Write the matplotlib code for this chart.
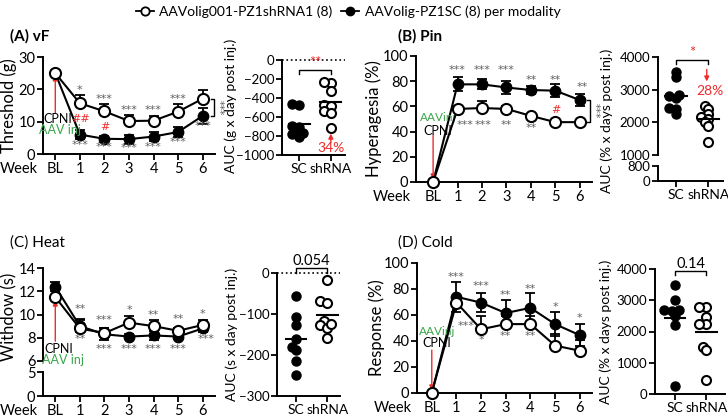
import matplotlib
matplotlib.use('Agg')
from matplotlib import pyplot as plt
from matplotlib.lines import Line2D
import numpy as np

plt.rcParams['font.family'] = ['Lato', 'DejaVu Sans']
plt.rcParams['font.size'] = 10

weeks = ['BL', '1', '2', '3', '4', '5', '6']
groups = ['SC', 'shRNA']

# (A) vF  threshold (g)
vf_sh = [25, 15.7, 13.2, 10.2, 10.3, 13.1, 17.1]
vf_sh_err = [0, 2.5, 2.3, 2.0, 1.6, 2.4, 2.8]
vf_sc = [25, 6.0, 4.7, 4.6, 5.4, 6.8, 11.8]
vf_sc_err = [0, 1.4, 0.9, 1.4, 1.5, 1.6, 2.4]
vf_auc_sc = [-470, -465, -690, -700, -740, -770, -780, -810]
vf_auc_sh = [-240, -232, -325, -475, -485, -533, -555, -715]

# (B) Pin  hyperalgesia (%)
pin_sh = [0, 58, 58.7, 58, 52.5, 47.5, 47.5]
pin_sh_err = [0, 2.5, 5.5, 2, 1.5, 1, 1]
pin_sc = [0, 77.5, 77.5, 75, 73, 72.5, 65]
pin_sc_err = [0, 5.5, 4, 5, 3, 5, 4.5]
pin_auc_sc = [3400, 3550, 2800, 2850, 2750, 2450, 2400, 2250]
pin_auc_sh = [2500, 2400, 2250, 2150, 2100, 2000, 1900, 1400]

# (C) Heat  withdraw (s)
heat_sh = [11.5, 8.8, 8.4, 9.3, 9.0, 8.6, 9.1]
heat_sh_err = [0, 0.8, 0.4, 0.6, 0.5, 0.2, 0.4]
heat_sc = [12.4, 9.0, 8.3, 8.1, 8.2, 8.1, 8.8]
heat_sc_err = [0.4, 0.5, 0.5, 0.2, 0.4, 0.2, 0.3]
heat_auc_sc = [-57, -107, -127, -160, -188, -180, -215, -248]
heat_auc_sh = [-16, -69, -74, -118, -126, -133, -125, -159]

# (D) Cold  response (%)
cold_sh = [0, 69.5, 49, 53, 53, 36.5, 32.5]
cold_sh_err = [0, 0, 10, 6, 6, 9, 8]
cold_sc = [0, 74, 69.5, 61.5, 65.5, 53, 44.5]
cold_sc_err = [0, 11.5, 7.5, 10, 11.5, 9, 8.5]
cold_auc_sc = [3500, 3000, 2700, 2700, 2650, 2500, 2200, 250]
cold_auc_sh = [2800, 2800, 2460, 2240, 2240, 1520, 1410, 450]

RED = '#ee2b2b'
GREEN = '#3aa64a'
GRAY = '#606060'

W, H = 728, 418
fig = plt.figure(figsize=(W / 100, H / 100), dpi=100, facecolor='white')


def box(x0, x1, ytop, ybot):
    a = fig.add_axes([x0 / W, 1 - ybot / H, (x1 - x0) / W, (ybot - ytop) / H])
    a.px = (x0, x1)
    return a


def label_at(ax, xpx, yfrac=0.5):
    x0, x1 = ax.px
    ax.yaxis.set_label_coords((xpx - x0) / (x1 - x0), yfrac)


def style(ax, bottom=True):
    for s in ['top', 'right']:
        ax.spines[s].set_visible(False)
    ax.spines['left'].set_linewidth(1.4)
    ax.spines['bottom'].set_linewidth(1.4)
    if not bottom:
        ax.spines['bottom'].set_visible(False)
        ax.set_xticks([])
    ax.tick_params(direction='out', length=4, width=1.3, labelsize=10.5, pad=1.5)
    ax.patch.set_alpha(0)


def week_axis(ax):
    ax.set_xticks(range(len(weeks)))
    ax.set_xticklabels(weeks)
    ax.annotate('Week', xy=(0, 0), xycoords='axes fraction', xytext=(-4, -5.5),
                textcoords='offset points', ha='right', va='top', fontsize=10.5)


def lines(ax, sh, sh_err, sc, sc_err):
    x = np.arange(len(weeks))
    sc_err = np.array(sc_err)
    sh_err = np.array(sh_err)
    m = sc_err > 0
    ax.errorbar(x[m], np.array(sc)[m], yerr=sc_err[m], fmt='none', ecolor='k',
                elinewidth=1.3, capsize=3.5, capthick=1.3, zorder=2)
    m = sh_err > 0
    ax.errorbar(x[m], np.array(sh)[m], yerr=[np.zeros(m.sum()), sh_err[m]], fmt='none',
                ecolor='k', elinewidth=1.3, capsize=3.5, capthick=1.3, zorder=2)
    ax.plot(x, sc, '-o', color='k', ms=7.5, lw=1.5, zorder=3, clip_on=False)
    ax.plot(x, sh, '-o', color='k', mfc='white', mec='k', mew=1.5, ms=8, lw=1.5,
            zorder=4, clip_on=False)


def stars(ax, items, color=GRAY, size=8):
    for x, y, t in items:
        ax.text(x, y, t, ha='center', va='center', fontsize=size, color=color,
                family='DejaVu Sans', clip_on=False)


def swarm(vals, ppu, d=6.0):
    order = np.argsort(vals)
    xs = np.zeros(len(vals))
    placed = []
    for i in order:
        y = vals[i] * ppu
        for k in [0, -0.6, 0.6, -1.2, 1.2, -1.8, 1.8]:
            xo = k * d
            if all((xo - px) ** 2 + (y - py) ** 2 >= (d * 0.8) ** 2 for px, py in placed):
                break
        placed.append((xo, y))
        xs[i] = xo
    return xs


def auc(ax, sc, sh, ppu_y, ppu_x, ylabel):
    for i, (vals, filled) in enumerate([(sc, True), (sh, False)]):
        vals = np.array(vals, dtype=float)
        xs = i + swarm(vals, ppu_y) / ppu_x
        if filled:
            ax.plot(xs, vals, 'o', color='k', ms=6.5, zorder=3, clip_on=False)
        else:
            ax.plot(xs, vals, 'o', mfc='white', mec='k', mew=1.5, ms=6.5, zorder=3, clip_on=False)
        ax.plot([i - 0.33, i + 0.33], [vals.mean()] * 2, color='k', lw=1.5, zorder=4)
    ax.set_xticks([0, 1])
    ax.set_xticklabels(groups)
    ax.tick_params(axis='x', labelsize=10)
    ax.tick_params(axis='y', labelsize=9.5)
    ax.set_ylabel(ylabel, fontsize=10)


def bracket(ax, y, h, text, color):
    ax.plot([0, 0, 1, 1], [y - h, y, y, y - h], color='k', lw=1, clip_on=False)
    ax.text(0.5, y, text, ha='center', va='bottom', color=color, fontsize=10.5, clip_on=False)


def vbracket(ax, x, y1, y2, text):
    ax.plot([x - 0.12, x, x, x - 0.12], [y1, y1, y2, y2], color='k', lw=1, clip_on=False)
    ax.text(x + 0.22, (y1 + y2) / 2, text, rotation=270, ha='center', va='center',
            fontsize=7.5, color=GRAY, family='DejaVu Sans', clip_on=False)


def arrow(ax, x, y_from, y_to):
    ax.annotate('', xy=(x, y_to), xytext=(x, y_from),
                arrowprops=dict(arrowstyle='-|>', color=RED, lw=1, mutation_scale=7,
                                shrinkA=0, shrinkB=0), annotation_clip=False)


# ---------------- (A) vF ----------------
ax = box(43, 215, 57, 154)
style(ax)
lines(ax, vf_sh, vf_sh_err, vf_sc, vf_sc_err)
ax.set_ylim(0, 30)
ax.set_xlim(-0.5, 6.5)
ax.set_yticks([0, 10, 20, 30])
week_axis(ax)
ax.set_ylabel('Threshold (g)', fontsize=12)
label_at(ax, 17)
stars(ax, [(1, 19.7, '*'), (2, 17.0, '***'), (3, 13.6, '***'), (4, 13.6, '***'),
           (5, 17.0, '***'), (1, 2.8, '***'), (2, 2.3, '***'), (3, 1.9, '***'),
           (4, 2.3, '***'), (5, 3.7, '***'), (6, 8.6, '***')])
stars(ax, [(1.02, 10.9, '##'), (2, 8.2, '#')], color=RED, size=8)
vbracket(ax, 6.45, 17.1, 11.8, '***')
arrow(ax, 0, 12.6, 24.3)
ax.text(0.1, 10.8, 'CPNI', ha='center', va='center', fontsize=9)
ax.text(0.2, 7.5, 'AAV inj', ha='center', va='center', fontsize=9, color=GREEN)
fig.text(10 / W, 1 - 36 / H, '(A) vF', fontsize=11, fontweight='bold', va='center')

ax = box(282, 345, 60, 155)
style(ax)
ax.set_ylim(-1000, 0)
ax.set_xlim(-0.55, 1.45)
ax.set_yticks(range(-1000, 1, 200))
ax.axhline(0, color='k', ls=':', lw=1.2, clip_on=False)
auc(ax, vf_auc_sc, vf_auc_sh, 95 / 1000, 31.5, 'AUC (g x day post inj.)')
label_at(ax, 237, 0.52)
bracket(ax, -110, 40, '**', RED)
arrow(ax, 1, -870, -775)
ax.text(1, -925, '34%', ha='center', va='center', color=RED, fontsize=10)

# ---------------- (B) Pin ----------------
ax = box(416, 592, 56, 182)
style(ax)
lines(ax, pin_sh, pin_sh_err, pin_sc, pin_sc_err)
ax.set_ylim(0, 100)
ax.set_xlim(-0.7, 6.5)
ax.set_yticks(range(0, 101, 20))
week_axis(ax)
ax.set_ylabel('Hyperagesia (%)', fontsize=12)
label_at(ax, 382)
stars(ax, [(1, 89, '***'), (2, 89, '***'), (3, 89, '***'), (4, 81, '**'), (5, 81, '**'),
           (6.1, 75, '**'), (1.3, 45, '***'), (2.05, 45.5, '***'), (3, 45.5, '**'),
           (4, 43, '**')])
stars(ax, [(5, 57.5, '#')], color=RED)
vbracket(ax, 6.4, 65, 47.5, '***')
arrow(ax, 0, 37, 2)
ax.text(0.2, 51, 'AAVinj', ha='center', va='center', fontsize=8.5, color=GREEN)
ax.text(0.2, 40.5, 'CPNI', ha='center', va='center', fontsize=9)
fig.text(398 / W, 1 - 36 / H, '(B) Pin', fontsize=11, fontweight='bold', va='center')

ax = box(658, 723, 57, 155)
style(ax, bottom=False)
ax.set_ylim(1000, 4000)
ax.set_xlim(-0.55, 1.45)
ax.set_yticks([1000, 2000, 3000, 4000])
auc(ax, pin_auc_sc, pin_auc_sh, 98 / 3000, 32.5, 'AUC (% x days post inj.)')
ax.tick_params(axis='x', bottom=False, labelbottom=False)
label_at(ax, 613, 0.35)
bracket(ax, 3920, 120, '*', RED)
arrow(ax, 0.95, 3620, 3250)
ax.text(1.05, 2950, '28%', ha='center', va='center', color=RED, fontsize=10)
ax2 = box(658, 723, 166, 181)
style(ax2)
ax2.set_ylim(0, 800)
ax2.set_xlim(-0.55, 1.45)
ax2.set_yticks([0, 800])
ax2.set_xticks([0, 1])
ax2.set_xticklabels(groups)
ax2.tick_params(axis='x', labelsize=10)
ax2.tick_params(axis='y', labelsize=9.5)

# ---------------- (C) Heat ----------------
ax = box(43, 215, 268, 361)
style(ax, bottom=False)
lines(ax, heat_sh, heat_sh_err, heat_sc, heat_sc_err)
ax.set_ylim(6, 14)
ax.set_xlim(-0.5, 6.5)
ax.set_yticks([6, 8, 10, 12, 14])
ax.set_ylabel('Withdow (s)', fontsize=12)
label_at(ax, 17, 0.47)
stars(ax, [(1, 10.5, '**'), (2, 9.5, '***'), (3, 10.4, '*'), (4, 9.95, '**'),
           (5, 9.6, '**'), (6, 10.0, '*'), (1, 7.85, '**'), (2, 7.0, '***'),
           (3, 7.0, '***'), (4, 7.0, '***'), (5, 7.0, '***'), (6.15, 7.9, '***')])
arrow(ax, 0, 7.7, 11.2)
ax.text(0.15, 7.0, 'CPNI', ha='center', va='center', fontsize=9)
ax.text(0.32, 6.05, 'AAV inj', ha='center', va='center', fontsize=9, color=GREEN)
ax2 = box(43, 215, 372, 396)
style(ax2)
ax2.set_ylim(0, 5)
ax2.set_xlim(-0.5, 6.5)
ax2.set_yticks([0, 5])
week_axis(ax2)
fig.text(10 / W, 1 - 243 / H, '(C) Heat', fontsize=11, va='center')

ax = box(277, 340, 273, 396)
style(ax)
ax.set_ylim(-300, 0)
ax.set_xlim(-0.6, 1.4)
ax.set_yticks([-300, -200, -100, 0])
ax.axhline(0, color='k', ls=':', lw=1.2, clip_on=False)
auc(ax, heat_auc_sc, heat_auc_sh, 123 / 300, 31.5, 'AUC (s x day post inj.)')
label_at(ax, 238)
bracket(ax, 12, 12, '0.054', 'k')

# ---------------- (D) Cold ----------------
ax = box(417, 592, 263, 393)
style(ax)
lines(ax, cold_sh, cold_sh_err, cold_sc, cold_sc_err)
ax.set_ylim(0, 100)
ax.set_xlim(-0.6, 6.5)
ax.set_yticks(range(0, 101, 20))
week_axis(ax)
ax.set_ylabel('Response (%)', fontsize=12)
label_at(ax, 385)
stars(ax, [(1, 89.5, '***'), (2, 82, '***'), (3, 75.5, '**'), (4, 80, '**'), (5, 66, '*'),
           (6, 57.5, '*'), (1.4, 51.5, '***'), (2, 41, '*'), (3, 44, '**'), (4, 44, '**')])
arrow(ax, 0, 33, 2)
ax.text(0.2, 47.5, 'AAVinj', ha='center', va='center', fontsize=8.5, color=GREEN)
ax.text(0.2, 38.5, 'CPNI', ha='center', va='center', fontsize=9)
fig.text(398 / W, 1 - 243 / H, '(D) Cold', fontsize=11, va='center')

ax = box(655, 725, 269, 394)
style(ax)
ax.set_ylim(0, 4000)
ax.set_xlim(-0.65, 1.6)
ax.set_yticks(range(0, 4001, 1000))
auc(ax, cold_auc_sc, cold_auc_sh, 125 / 4000, 31.1, 'AUC (% x days post inj.)')
label_at(ax, 612)
bracket(ax, 3950, 130, '0.14', 'k')

# legend on top
h1 = Line2D([], [], color='k', marker='o', mfc='white', mec='k', mew=1.3, ms=6, lw=1.3)
h2 = Line2D([], [], color='k', marker='o', ms=6, lw=1.3)
fig.legend([h1, h2], ['AAVolig001-PZ1shRNA1 (8)', 'AAVolig-PZ1SC (8) per modality'],
           loc='center', bbox_to_anchor=(348 / W, 1 - 12 / H), ncol=2, frameon=False,
           handlelength=1.3, handletextpad=0.4, columnspacing=0.6, fontsize=10)

fig.savefig('out.png', dpi=100)
